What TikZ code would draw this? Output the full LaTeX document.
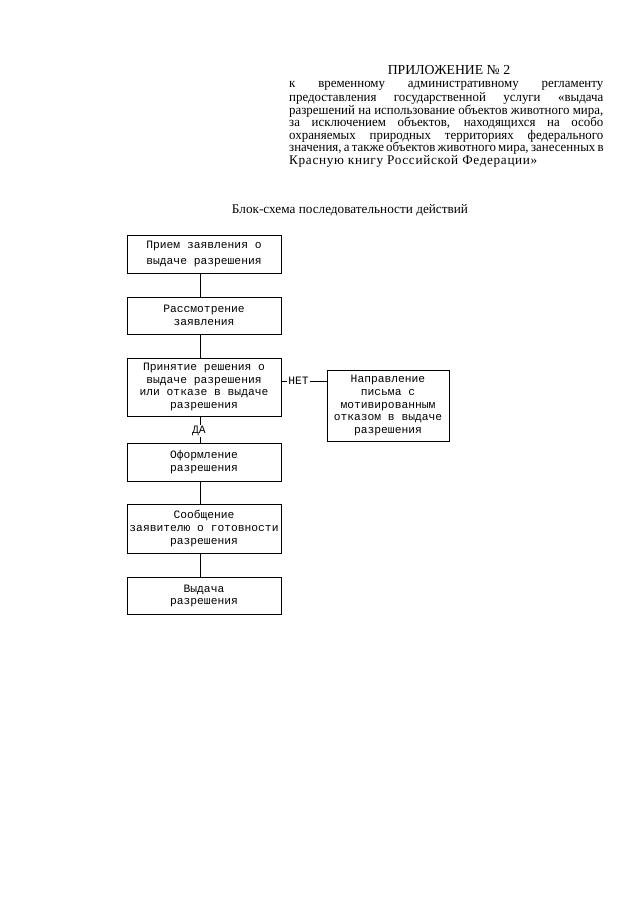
\documentclass[tikz,border=0pt]{standalone}
\usepackage{fontspec}
\setmainfont{Liberation Serif}
\newfontfamily\boxfont{Liberation Mono}
\newfontfamily\hdrfont[FakeStretch=0.975]{Liberation Serif}
\newfontfamily\hdrwide[LetterSpace=5]{Liberation Serif}
\newcommand\pxu{0.9297pt}
\tikzset{
  box/.style={draw, line width=0.7pt, inner sep=0pt, align=center,
    font=\boxfont\fontsize{10.5}{11.8}\selectfont},
  conn/.style={line width=0.7pt},
  lbl/.style={fill=white, inner sep=1pt, font=\boxfont\fontsize{10.5}{11.8}\selectfont},
  hdr/.style={inner sep=0pt, anchor=west, font=\hdrfont\fontsize{12.3}{12}\selectfont}
}
\begin{document}
\begin{tikzpicture}[x=0.9297pt,y=-0.9297pt]
\useasboundingbox[fill=white] (0,0) rectangle (640,905);
% header
\node[inner sep=0pt, font=\fontsize{12.8}{12}\selectfont] (h0) at (449,70) {ПРИЛОЖЕНИЕ № 2};
\node[hdr] (h1) at (289,85.7) {\makebox[292pt][s]{к временному административному регламенту}};
\node[hdr] (h2) at (289,98.3) {\makebox[292pt][s]{предоставления государственной услуги «выдача}};
\node[hdr] (h3) at (289,111) {\makebox[292pt][s]{разрешений на использование объектов животного мира,}};
\node[hdr] (h4) at (289,123.5) {\makebox[292pt][s]{за исключением объектов, находящихся на особо}};
\node[hdr] (h5) at (289,136) {\makebox[292pt][s]{охраняемых природных территориях федерального}};
\node[hdr] (h6) at (289,148.5) {\makebox[292pt][s]{значения, а также объектов животного мира, занесенных в}};
\node[hdr, font=\hdrwide\fontsize{12.3}{12}\selectfont] (h7) at (289,161) {Красную книгу Российской Федерации»};
\node[inner sep=0pt, font=\fontsize{12.3}{12}\selectfont] (title) at (350,210) {Блок-схема последовательности действий};
% boxes
\node[box, minimum width=154*\pxu, minimum height=38*\pxu] (b1) at (204,254) {Прием заявления о\\[3pt]выдаче разрешения};
\node[box, minimum width=154*\pxu, minimum height=37*\pxu] (b2) at (204,315.5) {Рассмотрение\\заявления};
\node[box, minimum width=154*\pxu, minimum height=58*\pxu] (b3) at (204,387) {Принятие решения о\\выдаче разрешения\\или отказе в выдаче\\разрешения};
\node[box, minimum width=122*\pxu, minimum height=71*\pxu] (b4) at (388,405.5) {Направление\\письма с\\мотивированным\\отказом в выдаче\\разрешения};
\node[box, minimum width=154*\pxu, minimum height=38*\pxu] (b5) at (204,462) {Оформление\\разрешения};
\node[box, minimum width=154*\pxu, minimum height=49*\pxu] (b6) at (204,528.5) {Сообщение\\заявителю о готовности\\разрешения};
\node[box, minimum width=154*\pxu, minimum height=37*\pxu] (b7) at (204,596) {Выдача\\разрешения};
% connectors
\draw[conn] (b1.south -| 200,0) -- (b2.north -| 200,0);
\draw[conn] (b2.south -| 200,0) -- (b3.north -| 200,0);
\draw[conn] (b3.south -| 200,0) -- (b5.north -| 200,0) node[lbl, pos=0.55, xshift=-1pt] (da) {ДА};
\draw[conn] (b3.east |- 0,381) -- (b4.west |- 0,381) node[lbl, pos=0.38] (net) {НЕТ};
\draw[conn] (b5.south -| 200,0) -- (b6.north -| 200,0);
\draw[conn] (b6.south -| 200,0) -- (b7.north -| 200,0);
\end{tikzpicture}
\end{document}
